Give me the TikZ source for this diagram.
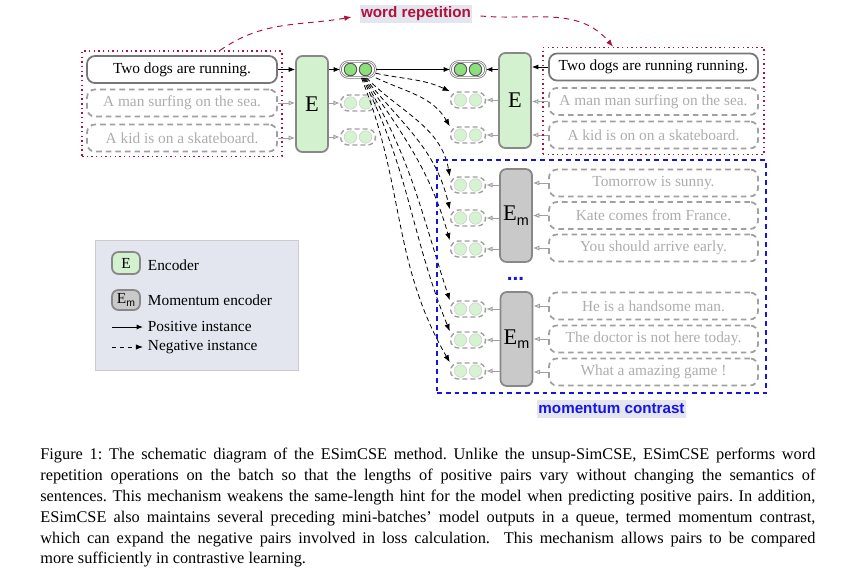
\documentclass[tikz,border=0pt]{standalone}
\usepackage{fontspec}
\setmainfont{Liberation Serif}
\setsansfont{Liberation Sans}
\usepackage{xcolor}
\usetikzlibrary{positioning,arrows.meta,calc,fit}

\definecolor{encgreen}{HTML}{D3F1CE}
\definecolor{dotgreen}{HTML}{8BE07B}
\definecolor{palegreen}{HTML}{D5F3D0}
\definecolor{mencgray}{HTML}{C9C9C9}
\definecolor{edgegray}{HTML}{777777}
\definecolor{encedge}{HTML}{888888}
\definecolor{neggray}{HTML}{A0A0A0}
\definecolor{negtext}{HTML}{ADADAD}
\definecolor{repred}{HTML}{B0103A}
\definecolor{momblue}{HTML}{1414E6}
\definecolor{tagbg}{HTML}{E3E6EE}

\newcommand{\Emlabel}[1]{E\raisebox{-0.45ex}{\sffamily\fontsize{#1}{#1}\selectfont m}}

\tikzset{
  sent/.style={draw=edgegray, line width=1.1pt, rounded corners=5pt, fill=white,
    minimum height=16.9pt, inner sep=0pt, font=\fontsize{9.6}{11}\selectfont},
  negsent/.style={sent, draw=neggray, dash pattern=on 3.5pt off 2.5pt, text=negtext},
  enc/.style={draw=encedge, line width=1.1pt, rounded corners=4pt, fill=encgreen,
    minimum width=20pt, inner sep=0pt, font=\fontsize{14}{16}\selectfont},
  menc/.style={enc, fill=mencgray},
  pospair/.style={draw=edgegray, double=white, line width=0.5pt, double distance=0.5pt,
    rounded corners=5pt, fill=white, minimum width=21.9pt, minimum height=10pt, inner sep=0pt},
  negpair/.style={draw=neggray, line width=0.9pt, dash pattern=on 3pt off 2pt,
    rounded corners=5pt, minimum width=21.9pt, minimum height=10pt, inner sep=0pt},
  posdot/.style={fill=dotgreen, draw=black!65, line width=0.6pt},
  negdot/.style={fill=palegreen, draw=black!18, line width=0.4pt},
  posarr/.style={-{Latex[length=4pt,width=3.2pt]}, line width=0.6pt},
  negarr/.style={-{Latex[open,length=4pt,width=3.2pt]}, draw=neggray, line width=0.6pt},
  fanarr/.style={-{Latex[length=4.5pt,width=3.4pt]}, line width=0.5pt, dash pattern=on 3pt off 2pt},
  reparr/.style={-{Latex[length=4.5pt,width=3.4pt]}, draw=repred, line width=0.6pt,
    dash pattern=on 3.5pt off 3pt},
  tag/.style={fill=tagbg, inner xsep=0.8pt, inner ysep=0pt, minimum height=10.8pt,
    font=\sffamily\bfseries\fontsize{9.5}{11}\selectfont},
  legtext/.style={inner sep=1pt, font=\fontsize{9.6}{11}\selectfont}
}

\begin{document}
\frenchspacing
\begin{tikzpicture}[x=0.625pt, y=0.625pt]
  \useasboundingbox (0,0) rectangle (846,-568);

  % sentences
  \node[sent, minimum width=118.75pt] (sL1) at (182,-69.5) {Two dogs are running.};
  \foreach \n/\y/\t in {sL2/-103/A man surfing on the sea., sL3/-138/A kid is on a skateboard.}{
    \node[negsent, minimum width=118.75pt] (\n) at (182,\y) {\t};
  }
  \node[sent, minimum width=130.6pt] (sR1) at (653.5,-67) {Two dogs are running running.};
  \foreach \n/\y/\t in {sR2/-101.5/A man man surfing on the sea., sR3/-135/A kid is on on a skateboard.,
      sM11/-183/Tomorrow is sunny., sM12/-215.5/Kate comes from France., sM13/-248/You should arrive early.,
      sM21/-306/He is a handsome man., sM22/-339/The doctor is not here today., sM23/-372/What a amazing game !}{
    \node[negsent, minimum width=130.6pt] (\n) at (653.5,\y) {\t};
  }

  % encoders
  \node[enc, minimum height=60pt] (encL) at (312,-104) {E};
  \node[enc, minimum height=59.4pt] (encR) at (515,-100.5) {E};
  \node[menc, minimum height=58.1pt] (encM1) at (516,-215.5) {\Emlabel{9}};
  \node[menc, minimum height=58.75pt] (encM2) at (516.5,-339) {\Emlabel{9}};

  % output pairs
  \foreach \n/\x/\y in {pL1/358/-69.5, pR1/468/-69.5}{
    \node[pospair] (\n) at (\x,\y) {};
    \foreach \s in {-1,1} \filldraw[posdot] ($(\n.center)+(\s*7.5,0)$) circle (3.9pt);
  }
  \foreach \n/\x/\y in {pL2/358/-103, pL3/358/-137, pR2/468/-100, pR3/468/-135,
      pM11/468/-185, pM12/468/-218, pM13/468/-249, pM21/468/-309, pM22/468/-340, pM23/468/-371}{
    \node[negpair] (\n) at (\x,\y) {};
    \foreach \s in {-1,1} \filldraw[negdot] ($(\n.center)+(\s*7.5,0)$) circle (3.9pt);
  }

  % batch -> encoder -> pairs
  \draw[posarr] (sL1.east) -- (sL1.east -| encL.west);
  \draw[posarr] (encL.east |- pL1) -- (pL1.west);
  \draw[posarr] (sR1.west) -- (sR1.west -| encR.east);
  \draw[posarr] (encR.west |- pR1) -- (pR1.east);
  \draw[posarr] (pL1.east) -- (pR1.west);
  \foreach \i in {2,3}{
    \draw[negarr] (sL\i.east) -- (sL\i.east -| encL.west);
    \draw[negarr] (encL.east |- pL\i) -- (pL\i.west);
    \draw[negarr] (sR\i.west) -- (sR\i.west -| encR.east);
    \draw[negarr] (encR.west |- pR\i) -- (pR\i.east);
  }
  \foreach \k in {1,2}{
    \foreach \i in {1,2,3}{
      \draw[negarr] (sM\k\i.west) -- (sM\k\i.west -| encM\k.east);
      \draw[negarr] (encM\k.west |- pM\k\i) -- (pM\k\i.east);
    }
  }

  % negatives fan
  \foreach \t/\o/\i in {pR2/-12/155, pR3/-25/120, pM11/-45/100, pM12/-51/103, pM13/-55/106,
      pM21/-59/108, pM22/-63/112, pM23/-68/120}{
    \draw[fanarr] (pL1.\o) to[out=\o, in=\i] (\t.north west);
  }

  % groups
  \node[draw=repred, line width=0.9pt, dotted, fit=(sL1)(sL3), inner sep=2.5pt] (redL) {};
  \node[draw=repred, line width=0.9pt, dotted, fit=(sR1)(sR3), inner sep=3.2pt] (redR) {};
  \coordinate (momTL) at (437,-160);
  \coordinate (momBR) at (766,-393);
  \node[draw=momblue, line width=0.9pt, dash pattern=on 3pt off 2.5pt, fit=(momTL)(momBR), inner sep=0pt] (momL) {};
  \node[font=\sffamily\bfseries\fontsize{13}{13}\selectfont, text=momblue, inner sep=0pt] (mdots) at (515.5,-279) {...};

  \node[tag, text=repred] (wrep) at (416,-14) {word repetition};
  \node[tag, text=momblue] (momc) at (611.5,-409) {momentum contrast};
  \draw[reparr] ([xshift=23.75pt]redL.north) to[out=35, in=190] ($(wrep.west)+(-8,-3)$);
  \draw[reparr] ($(wrep.east)+(8,-2)$) to[out=-5, in=130] ([xshift=-25.3pt]redR.north);

  % legend
  \node[fill=tagbg, draw=black!20, line width=0.5pt, minimum width=126.9pt, minimum height=81.25pt] (legend) at (196.5,-305) {};
  \node[enc, minimum width=17.5pt, minimum height=13.75pt, font=\fontsize{9.6}{11}\selectfont] (lgE) at (126,-263) {E};
  \node[menc, minimum width=17.5pt, minimum height=12.5pt, font=\fontsize{9.6}{11}\selectfont] (lgEm) at (126,-300) {\Emlabel{6.5}};
  \node[legtext, anchor=west] (lgEt) at (146,-265) {Encoder};
  \node[legtext, anchor=west] (lgEmt) at (146,-300.5) {Momentum encoder};
  \coordinate (lgPa) at (112,-327);
  \coordinate (lgPb) at (143,-327);
  \coordinate (lgNa) at (112,-347);
  \coordinate (lgNb) at (143,-347);
  \draw[posarr] (lgPa) -- (lgPb);
  \draw[fanarr, dash pattern=on 2.5pt off 2.5pt] (lgNa) -- (lgNb);
  \node[legtext, anchor=west] (lgPt) at (146,-326.5) {Positive instance};
  \node[legtext, anchor=west] (lgNt) at (146,-347) {Negative instance};

  % caption
  \node[anchor=north west, text width=484.4pt, align=justify, inner sep=0pt,
    font=\fontsize{10.2}{13}\selectfont] (caption) at (40,-448) {Figure 1: The schematic diagram of the ESimCSE method. Unlike the unsup-SimCSE, ESimCSE performs word\linebreak
    repetition operations on the batch so that the lengths of positive pairs vary without changing the semantics of\linebreak
    sentences. This mechanism weakens the same-length hint for the model when predicting positive pairs. In addition,\linebreak
    ESimCSE also maintains several preceding mini-batches' model outputs in a queue, termed momentum contrast,\linebreak
    which can expand the negative pairs involved in loss calculation.\ \ This mechanism allows pairs to be compared\linebreak
    more sufficiently in contrastive learning.};
\end{tikzpicture}
\end{document}
